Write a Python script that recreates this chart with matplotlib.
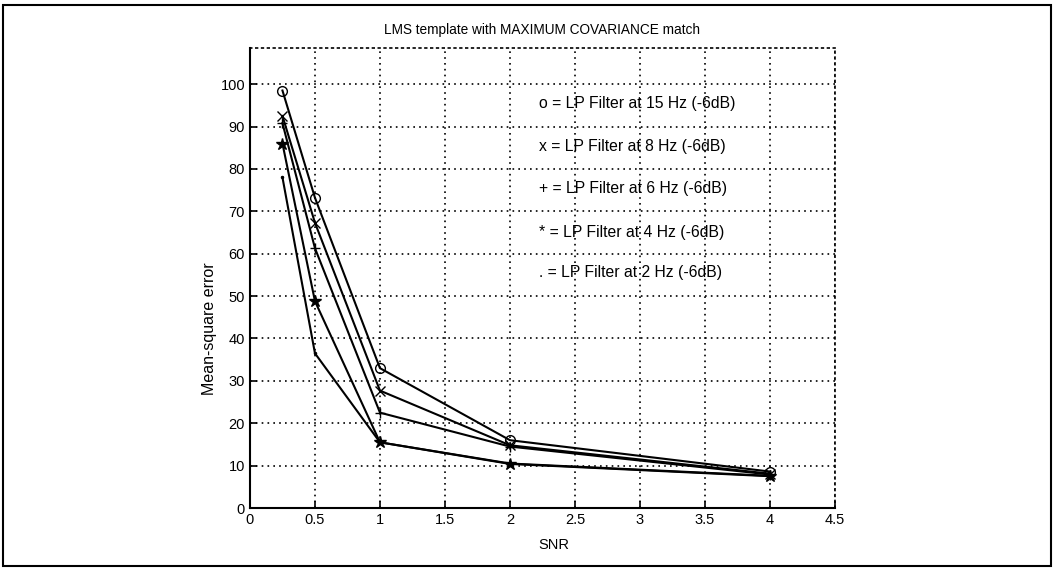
import numpy as np
import matplotlib
matplotlib.use("Agg")
import matplotlib.pyplot as plt
from matplotlib.patches import Rectangle

plt.rcParams['font.family'] = ['Liberation Sans Narrow', 'Liberation Sans', 'DejaVu Sans']

# SNR-Werte
snr = [0.25, 0.5, 1, 2, 4]

# Mean-square error je Filter
mse_15hz = [98.5, 73.2, 33.0, 16.0, 8.6]
mse_8hz = [92.5, 67.3, 27.7, 14.8, 8.1]
mse_6hz = [90.8, 61.3, 22.5, 14.5, 7.9]
mse_4hz = [86.0, 48.8, 15.5, 10.5, 7.6]
mse_2hz = [78.0, 36.5, 15.5, 10.4, 7.5]

series = [mse_15hz, mse_8hz, mse_6hz, mse_4hz, mse_2hz]
markers = ['o', 'x', '+', '*', '.']
labels = ['o = LP Filter at 15 Hz (-6dB)',
          'x = LP Filter at 8 Hz (-6dB)',
          '+ = LP Filter at 6 Hz (-6dB)',
          '* = LP Filter at 4 Hz (-6dB)',
          '. = LP Filter at 2 Hz (-6dB)']
label_y = [95.5, 85.3, 75.3, 65.0, 55.5]

fig = plt.figure(figsize=(10.56, 5.73), dpi=100)
ax = fig.add_axes([0.2367, 0.1134, 0.5540, 0.8026])

for vals, m in zip(series, markers):
    ms = {'o': 7, 'x': 7, '+': 7, '*': 9, '.': 3}[m]
    ax.plot(snr, vals, color='black', linewidth=1.5, marker=m,
            markersize=ms, markerfacecolor='none' if m == 'o' else 'black',
            markeredgewidth=1.0)

for txt, yy in zip(labels, label_y):
    ax.text(2.22, yy, txt, fontsize=11.3, va='center', ha='left')

ax.set_xlim(0, 4.5)
ax.set_ylim(0, 108.5)
ax.set_xticks(np.arange(0, 4.51, 0.5))
ax.set_xticklabels(['0', '0.5', '1', '1.5', '2', '2.5', '3', '3.5', '4', '4.5'])
ax.set_yticks(np.arange(0, 101, 10))
ax.tick_params(direction='in', length=5, labelsize=10.5, width=1.2)
ax.grid(True, color='black', linestyle=(0, (1, 2.5)), linewidth=1.2)

for side in ['top', 'right']:
    ax.spines[side].set_linestyle((0, (1, 2.5)))
    ax.spines[side].set_linewidth(1.2)
for side in ['left', 'bottom']:
    ax.spines[side].set_linewidth(1.5)

ax.set_title('LMS template with MAXIMUM COVARIANCE match', fontsize=9.8, pad=10)
ax.set_xlabel('SNR', fontsize=10.5)
ax.xaxis.set_label_coords(0.52, -0.065)
ax.set_ylabel('Mean-square error', fontsize=11.5)
ax.yaxis.set_label_coords(-0.057, 0.39)

# Rahmen um die ganze Abbildung
fig.patches.append(Rectangle((0.003, 0.012), 0.992, 0.979, transform=fig.transFigure,
                             fill=False, edgecolor='black', linewidth=1.5))

fig.savefig('out.png', dpi=100)
